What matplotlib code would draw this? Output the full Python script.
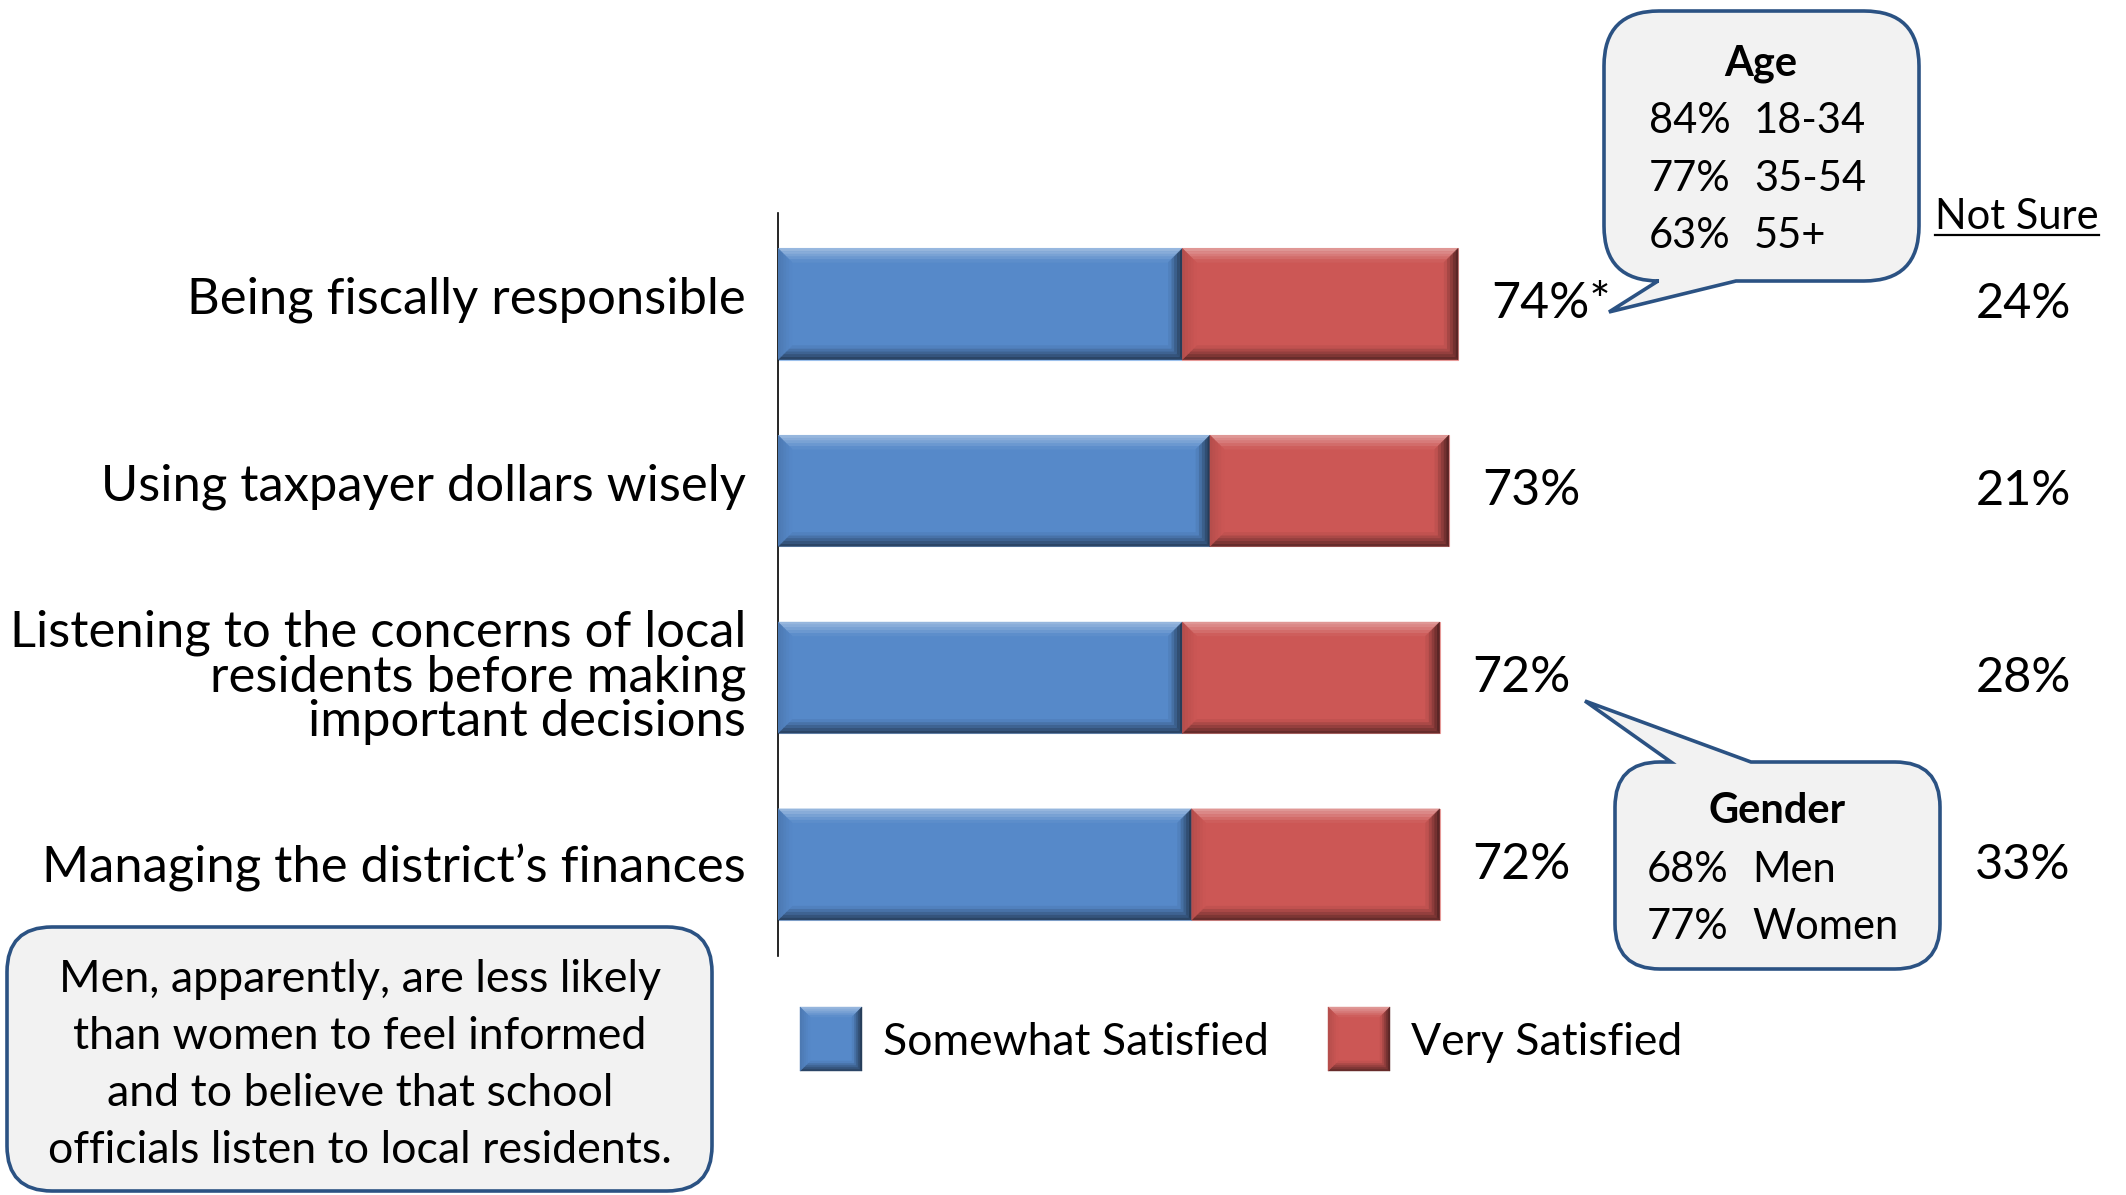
import matplotlib
matplotlib.use("Agg")
import matplotlib.pyplot as plt
from matplotlib.path import Path
from matplotlib.patches import PathPatch, Polygon, Rectangle
from matplotlib.lines import Line2D
from matplotlib.transforms import blended_transform_factory
import matplotlib.colors as mcolors
import numpy as np

plt.rcParams['font.family'] = ['Lato', 'DejaVu Sans']

# ---- data -------------------------------------------------------------
categories = [
    "Being fiscally responsible",
    "Using taxpayer dollars wisely",
    "Listening to the concerns of local\nresidents before making\nimportant decisions",
    "Managing the district\u2019s finances",
]
somewhat = [44, 47, 44, 45]
very = [30, 26, 28, 27]
footnote_marks = ["*", "", "", ""]
not_sure = [24, 21, 28, 33]
series_names = ["Somewhat Satisfied", "Very Satisfied"]

age_groups = ["18-34", "35-54", "55+"]
age_values = [84, 77, 63]
gender_groups = ["Men", "Women"]
gender_values = [68, 77]

note_lines = [
    "Men, apparently, are less likely",
    "than women to feel informed",
    "and to believe that school",
    "officials listen to local residents.",
]

# ---- style ------------------------------------------------------------
W, H = 2126, 1195
BLUE = "#5689C9"
RED = "#CC5755"
BUBBLE_FACE = "#F2F2F2"
BUBBLE_EDGE = "#2B5283"
LABEL_SIZE = 36.5


def mix(c, target, f):
    a = np.array(mcolors.to_rgb(c))
    b = np.array(mcolors.to_rgb(target))
    return tuple(a + (b - a) * f)


def bevel(axis, x0, x1, yt, yb, dx, dy, base, n=5, z=3):
    """Draw a bevelled frame inside a rectangle (y axis pointing down)."""
    edges = {
        "top": mix(base, "white", 0.42),
        "bottom": mix(base, "black", 0.55),
        "left": mix(base, "black", 0.12),
        "right": mix(base, "black", 0.62),
    }
    for k in range(n):
        a, b = k / n, (k + 1) / n
        t = (k + 0.5) / n
        polys = {
            "top": [(x0 + a * dx, yt + a * dy), (x1 - a * dx, yt + a * dy),
                    (x1 - b * dx, yt + b * dy), (x0 + b * dx, yt + b * dy)],
            "bottom": [(x0 + a * dx, yb - a * dy), (x1 - a * dx, yb - a * dy),
                       (x1 - b * dx, yb - b * dy), (x0 + b * dx, yb - b * dy)],
            "left": [(x0 + a * dx, yt + a * dy), (x0 + a * dx, yb - a * dy),
                     (x0 + b * dx, yb - b * dy), (x0 + b * dx, yt + b * dy)],
            "right": [(x1 - a * dx, yt + a * dy), (x1 - a * dx, yb - a * dy),
                      (x1 - b * dx, yb - b * dy), (x1 - b * dx, yt + b * dy)],
        }
        for side, pts in polys.items():
            col = mix(edges[side], base, t)
            axis.add_patch(Polygon(pts, closed=True, fc=col, ec=col, lw=0.3,
                                   zorder=z))


fig = plt.figure(figsize=(W / 100, H / 100), dpi=100)
fig.patch.set_facecolor("white")

# main bar axes
ax = fig.add_axes([778 / W, 1 - 956 / H, (1697 - 778) / W, (956 - 213) / H])
ax.set_xlim(0, 100)
ax.set_ylim(3.49, -0.487)
for s in ("top", "right", "bottom"):
    ax.spines[s].set_visible(False)
ax.spines["left"].set_linewidth(1.2)
ax.spines["left"].set_color("black")
ax.set_xticks([])
ax.set_yticks([])
ax.patch.set_alpha(0)

ypos = np.arange(len(categories))
bar_h = 0.595
bars_a = ax.barh(ypos, somewhat, height=bar_h, color=BLUE, edgecolor="#9CC0EC",
                 linewidth=0.8, zorder=2)
bars_b = ax.barh(ypos, very, left=somewhat, height=bar_h, color=RED,
                 edgecolor="#E79A98", linewidth=0.8, zorder=2)

# pixel scale of the data axes
p0 = ax.transData.transform((0, 0))
p1 = ax.transData.transform((1, 1))
ux = abs(p1[0] - p0[0])
uy = abs(p1[1] - p0[1])
depth = 14
for bars, base in ((bars_a, BLUE), (bars_b, RED)):
    for r in bars:
        x0, x1 = r.get_x(), r.get_x() + r.get_width()
        yt, yb = r.get_y(), r.get_y() + r.get_height()
        bevel(ax, x0, x1, yt, yb, depth / ux, depth / uy, base)

# category labels (baseline offsets in pixels below the bar centre)
label_x = -32 / ux
line_gap = 45 / uy
single_offsets = [9.5, 9.5, 9.5, 18]
for i, cat in enumerate(categories):
    lines = cat.split("\n")
    n = len(lines)
    if n == 1:
        ax.text(label_x, i + single_offsets[i] / uy, cat, ha="right",
                va="baseline", fontsize=LABEL_SIZE, clip_on=False)
    else:
        start = i + (-5 + 18.5) / uy - (n - 1) / 2 * line_gap
        for j, ln in enumerate(lines):
            ax.text(label_x, start + j * line_gap, ln, ha="right",
                    va="baseline", fontsize=LABEL_SIZE, clip_on=False)

# total satisfied labels
totals = [a + b for a, b in zip(somewhat, very)]
for i, (t, mark) in enumerate(zip(totals, footnote_marks)):
    ax.text(t + 33 / ux, i + 14.5 / uy, f"{t}%{mark}", ha="left",
            va="baseline", fontsize=36, clip_on=False)

# overlay in figure pixels (y pointing down)
ov = fig.add_axes([0, 0, 1, 1], zorder=5)
ov.set_xlim(0, W)
ov.set_ylim(H, 0)
ov.axis("off")
ov.patch.set_alpha(0)

# not-sure column
tr = blended_transform_factory(ov.transData, ax.transData)
for i, v in enumerate(not_sure):
    ax.text(2023, i + 14.5 / uy, f"{v}%", transform=tr, ha="center",
            va="baseline", fontsize=35, clip_on=False)
ns_head = ov.text(2017, 229, "Not Sure", ha="center", va="baseline",
                  fontsize=30)


def bubble(x0, y0, x1, y1, r, tail=None):
    V, C = [], []

    def mv(p):
        V.append(p); C.append(Path.MOVETO)

    def ln(p):
        V.append(p); C.append(Path.LINETO)

    def cv(c, p):
        V.extend([c, p]); C.extend([Path.CURVE3, Path.CURVE3])

    mv((x0 + r, y0))
    if tail and tail[0] == "top":
        _, xa, xb, tip = tail
        ln((xa, y0)); ln(tip); ln((xb, y0))
    ln((x1 - r, y0)); cv((x1, y0), (x1, y0 + r))
    ln((x1, y1 - r)); cv((x1, y1), (x1 - r, y1))
    if tail and tail[0] == "bottom":
        _, xa, xb, tip = tail
        ln((xb, y1)); ln(tip); ln((xa, y1))
    ln((x0 + r, y1)); cv((x0, y1), (x0, y1 - r))
    ln((x0, y0 + r)); cv((x0, y0), (x0 + r, y0))
    V.append((x0 + r, y0)); C.append(Path.CLOSEPOLY)
    ov.add_patch(PathPatch(Path(V, C), fc=BUBBLE_FACE, ec=BUBBLE_EDGE,
                           lw=2.6, joinstyle="miter", zorder=2))


# age callout
bubble(1604, 11, 1919, 281, 55, ("bottom", 1658, 1736, (1609, 312)))
ov.text(1761, 75, "Age", ha="center", va="baseline", fontsize=30,
        fontweight="bold", zorder=3)
for k, (v, g) in enumerate(zip(age_values, age_groups)):
    yb = 133 + 57.5 * k
    ov.text(1649, yb, f"{v}%", ha="left", va="baseline", fontsize=30, zorder=3)
    ov.text(1754, yb, g, ha="left", va="baseline", fontsize=30, zorder=3)

# gender callout
bubble(1615, 762, 1940, 969, 45, ("top", 1671, 1751, (1585, 701)))
ov.text(1777, 823, "Gender", ha="center", va="baseline", fontsize=30,
        fontweight="bold", zorder=3)
for k, (v, g) in enumerate(zip(gender_values, gender_groups)):
    yb = 882 + 57 * k
    ov.text(1647, yb, f"{v}%", ha="left", va="baseline", fontsize=30, zorder=3)
    ov.text(1752, yb, g, ha="left", va="baseline", fontsize=30, zorder=3)

# note box
bubble(7, 927, 712, 1191, 45)
for k, line in enumerate(note_lines):
    ov.text(360, 992 + 57 * k, line, ha="center", va="baseline", fontsize=32.2,
            zorder=3)

# legend
legend_boxes = [(800, 862), (1328, 1390)]
for (lx0, lx1), base, name in zip(legend_boxes, (BLUE, RED), series_names):
    ov.add_patch(Rectangle((lx0, 1007), lx1 - lx0, 64, fc=base, ec="none",
                           zorder=2))
    bevel(ov, lx0, lx1, 1007, 1071, 10, 10, base, z=3)
    ov.text(lx1 + 21, 1055, name, ha="left", va="baseline", fontsize=32,
            zorder=3)

# underline under the "Not Sure" heading
fig.canvas.draw()
bb = ns_head.get_window_extent(fig.canvas.get_renderer())
inv = ov.transData.inverted()
(ux0, _), (ux1, _) = inv.transform([(bb.x0, bb.y0), (bb.x1, bb.y0)])
ov.add_line(Line2D([ux0, ux1], [235, 235], color="black", lw=1.6))

fig.savefig("out.png", dpi=100, facecolor="white")
